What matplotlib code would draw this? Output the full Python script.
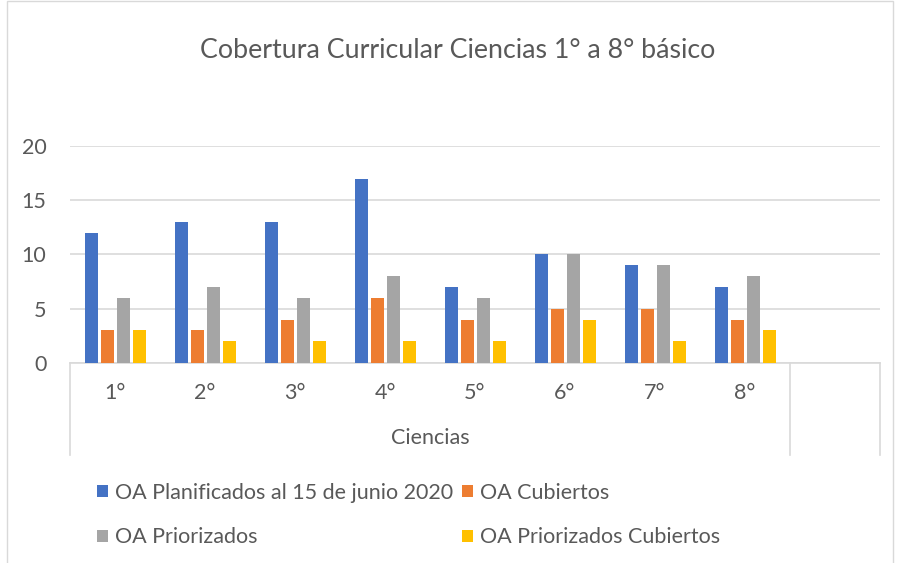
import numpy as np
import matplotlib
matplotlib.use("Agg")
import matplotlib.pyplot as plt
from matplotlib.patches import Rectangle
from matplotlib.lines import Line2D
import matplotlib.transforms as mtransforms

plt.rcParams['font.family'] = ['Lato', 'DejaVu Sans']

grados = ["1°", "2°", "3°", "4°", "5°", "6°", "7°", "8°"]
planificados = [12, 13, 13, 17, 7, 10, 9, 7]
cubiertos = [3, 3, 4, 6, 4, 5, 5, 4]
priorizados = [6, 7, 6, 8, 6, 10, 9, 8]
prior_cubiertos = [3, 2, 2, 2, 2, 4, 2, 3]
series_names = ["OA Planificados al 15 de junio 2020", "OA Cubiertos",
                "OA Priorizados", "OA Priorizados Cubiertos"]
colores = ["#4472C4", "#ED7D31", "#A5A5A5", "#FFC000"]

txt = "#595959"
grid = "#d9d9d9"

W, H = 901, 563
fig = plt.figure(figsize=(W / 100, H / 100), dpi=100)

# chart border
fig.patches.append(Rectangle((7 / W, -0.01), (893 - 7) / W, 1.008,
                             transform=fig.transFigure, fill=False,
                             edgecolor=grid, lw=1))

ax = fig.add_axes([70 / W, 1 - 363 / H, (880 - 70) / W, (363 - 146) / H])

x = np.arange(len(grados))
step = 16 / 90
bw = 13 / 90
data = [planificados, cubiertos, priorizados, prior_cubiertos]
handles = []
for i, (vals, c, name) in enumerate(zip(data, colores, series_names)):
    b = ax.bar(x + (i - 1.5) * step, vals, bw, color=c, label=name, zorder=3)
    handles.append(b)

ax.set_xlim(-0.5, 8.5)
ax.set_ylim(0, 20)
ax.set_yticks([0, 5, 10, 15, 20])
ax.yaxis.grid(True, color=grid, lw=1.2, zorder=0)
ax.tick_params(axis='y', length=0, labelsize=15.5, labelcolor=txt, pad=17)
ax.set_xticks([])
for s in ['top', 'right', 'left']:
    ax.spines[s].set_visible(False)
ax.spines['bottom'].set_color(grid)
ax.spines['bottom'].set_linewidth(1.2)

# multi-level category axis
tr = mtransforms.blended_transform_factory(ax.transData, ax.transAxes)
low = (363 - 455) / (363 - 146)
for xv in [-0.5, 7.5, 8.5]:
    ax.add_line(Line2D([xv, xv], [0, low], transform=tr, color=grid,
                       lw=1.2, clip_on=False))
for xi, g in zip(x, grados):
    ax.text(xi, (363 - 393) / (363 - 146), g, transform=tr, ha='center',
            va='center', fontsize=15.5, color=txt)
ax.text(3.5, (363 - 438) / (363 - 146), "Ciencias", transform=tr,
        ha='center', va='center', fontsize=15.5, color=txt)

fig.text(458 / W, 1 - 50 / H, "Cobertura Curricular Ciencias 1° a 8° básico",
         ha='center', va='center', fontsize=19.3, color=txt)

# legend rows: [plan, cub] / [prior, prior_cub]
order = [0, 2, 1, 3]
leg = fig.legend(handles=[handles[k] for k in order],
                 loc='upper left', bbox_to_anchor=(97 / W, 1 - 483 / H),
                 ncol=2, frameon=False, borderpad=0, borderaxespad=0,
                 fontsize=15.5, handlelength=0.5, handleheight=0.5,
                 handletextpad=0.32, columnspacing=0.45, labelspacing=1.13)
for t in leg.get_texts():
    t.set_color(txt)

fig.savefig("out.png", dpi=100)
